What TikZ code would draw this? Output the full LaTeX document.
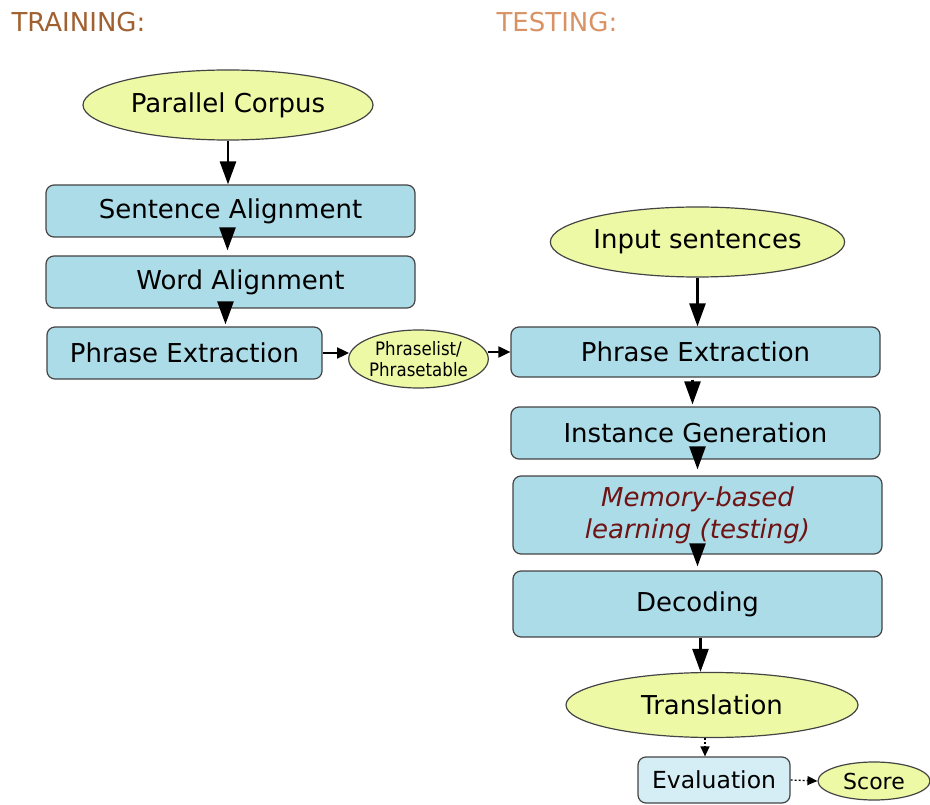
\documentclass[tikz,border=0pt]{standalone}
\usepackage{fontspec}
\usepackage{graphicx}
\setmainfont{DejaVu Sans}
\usetikzlibrary{shapes.geometric,arrows.meta}
\definecolor{boxblue}{HTML}{ADDCE9}
\definecolor{evalblue}{HTML}{D5EEF5}
\definecolor{ellyel}{HTML}{EEF9A5}
\definecolor{trainc}{HTML}{A0602F}
\definecolor{testc}{HTML}{D89264}
\definecolor{memc}{HTML}{6E1414}
\definecolor{edgec}{HTML}{444444}
\tikzset{
  procbox/.style={rectangle, rounded corners=8pt, draw=edgec, line width=1.2pt, fill=boxblue,
    inner sep=0pt, font=\fontsize{26}{31}\selectfont},
  ellnode/.style={ellipse, draw=edgec, line width=1.2pt, fill=ellyel, inner sep=0pt,
    font=\fontsize{26}{31}\selectfont},
  bigarrow/.style={line width=2.6pt, -{Triangle[length=23pt,width=16pt]}},
  midarrow/.style={line width=2pt, -{Triangle[length=12pt,width=11pt]}},
  smallarrow/.style={line width=1.3pt, dash pattern=on 2pt off 2pt, -{Triangle[length=10pt,width=9pt]}},
  header/.style={anchor=west, font=\fontsize{26}{31}\selectfont}
}
\begin{document}
\begin{tikzpicture}[x=1pt,y=-1pt]
\useasboundingbox (0,0) rectangle (930,805);
\node[header, text=trainc] (train) at (8,22) {TRAINING:};
\node[header, text=testc] (test) at (493,22) {TESTING:};

% training column
\node[ellnode, minimum width=290pt, minimum height=70pt] (pc) at (228,105) {Parallel Corpus};
\node[procbox, minimum width=369pt, minimum height=52pt] (sa) at (230.5,211) {Sentence Alignment};
\node[procbox, minimum width=369pt, minimum height=52pt] (wa) at (230.5,282) {\hspace{20pt}Word Alignment};
\node[procbox, minimum width=275pt, minimum height=52pt] (pe1) at (184.5,353) {Phrase Extraction};
\node[ellnode, minimum width=139pt, minimum height=58pt, align=center,
  font=\fontsize{18.5}{21}\selectfont] (pl) at (418.5,359)
  {\scalebox{0.9}[1]{Phraselist/}\\\scalebox{0.9}[1]{Phrasetable}};

% testing column
\node[ellnode, minimum width=289pt, minimum height=70pt] (in) at (697.5,242) {Input sentences};
\node[procbox, minimum width=369pt, minimum height=50pt] (pe2) at (695.5,352) {Phrase Extraction};
\node[procbox, minimum width=369pt, minimum height=52pt] (ig) at (695.5,433) {Instance Generation};
\node[procbox, minimum width=369pt, minimum height=78pt, align=center,
  font=\fontsize{26}{32}\selectfont\itshape, text=memc] (mb) at (697.5,515) {Memory-based\\learning (testing)};
\node[procbox, minimum width=369pt, minimum height=66pt] (dec) at (697.5,604) {Decoding};
\node[ellnode, minimum width=292pt, minimum height=65pt] (tr) at (712,705) {Translation};
\node[procbox, fill=evalblue, minimum width=152pt, minimum height=46pt,
  font=\fontsize{23.5}{28}\selectfont] (ev) at (714,780) {Evaluation};
\node[ellnode, minimum width=112pt, minimum height=38pt,
  font=\fontsize{22}{26}\selectfont] (sc) at (874,781) {Score};

% connectors
\draw[bigarrow] (pc.south) -- (pc.south |- sa.north);
\draw[bigarrow] ([xshift=-3pt,yshift=-2pt]sa.south) -- ([xshift=-3pt,yshift=5pt]sa.south |- wa.north);
\draw[bigarrow] ([xshift=-5pt,yshift=-2pt]wa.south) -- ([xshift=-5pt,yshift=2pt]wa.south |- pe1.north);
\draw[midarrow] (pe1.east) -- ([xshift=1pt]pl.west |- pe1.east);
\draw[midarrow] ([xshift=-1pt]pl.east |- pe2.west) -- (pe2.west);
\draw[bigarrow] (in.south) -- (in.south |- pe2.north);
\draw[bigarrow] ([xshift=-3pt,yshift=-2pt]pe2.south) -- ([xshift=-3pt,yshift=2pt]pe2.south |- ig.north);
\draw[bigarrow] ([yshift=-2pt]ig.south -| mb.north) -- ([yshift=6pt]mb.north);
\draw[bigarrow] ([yshift=-2pt]mb.south) -- ([yshift=4pt]dec.north);
\draw[bigarrow] ([xshift=3pt]dec.south) -- ([xshift=3pt]dec.south |- tr.north);
\draw[smallarrow] ([xshift=-7pt]tr.south) -- ([xshift=-7pt]tr.south |- ev.north);
\draw[smallarrow] (ev.east) -- (sc.west);
\end{tikzpicture}
\end{document}
